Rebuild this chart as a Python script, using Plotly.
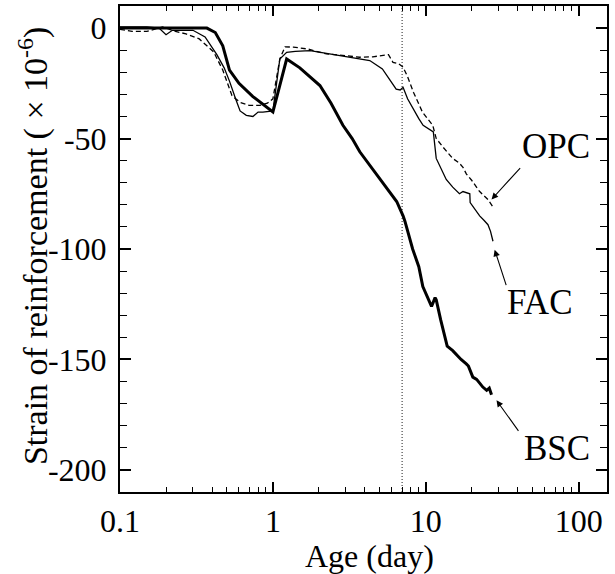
import plotly.graph_objects as go
import math

# ---- data ----
bsc_age = [0.1, 0.15, 0.2, 0.3, 0.37, 0.42, 0.47, 0.52, 0.6, 0.74, 0.87, 1.0, 1.23, 1.5, 2.03, 2.4,
           2.87, 3.3, 3.7, 4.4, 5.2, 5.8, 6.45, 7.1, 7.3, 8.2, 9.0, 9.56, 10.9, 11.5, 11.7, 12.5,
           13.8, 15.0, 15.9, 17.0, 18.4, 19.0, 20.3, 21.5, 23.6, 25.0, 26.0, 26.9]
bsc_strain = [0, 0, 0, 0, 0, -2, -8, -19, -25, -31, -35, -38, -14, -18, -26, -34,
              -44, -50, -56, -63, -70, -74, -78.5, -85, -87.4, -100, -108, -117, -126, -122, -123, -132,
              -144, -146, -148, -150, -152, -153, -158, -159, -162.5, -164, -163, -166]

fac_age = [0.1, 0.15, 0.18, 0.2, 0.22, 0.3, 0.36, 0.43, 0.48, 0.52, 0.57, 0.61, 0.67, 0.74, 0.8,
           0.86, 1.0, 1.11, 1.23, 1.4, 1.75, 2.3, 2.87, 3.5, 4.3, 5.2, 5.8, 6.4, 6.8, 7.1, 7.6,
           8.3, 9.0, 9.6, 11.1, 11.2, 11.7, 12.5, 13.6, 15.0, 16.6, 17.5, 19.4, 19.5, 21.0, 22.5,
           24.0, 25.5, 26.5, 27.5]
fac_strain = [0.5, 0.5, 0, -3, -1, -1, -4, -12, -18, -24, -32, -37.5, -39.5, -40, -38,
              -38, -37.5, -14, -11, -10.5, -10.2, -11.5, -12.5, -13.5, -14.7, -18.5, -23, -27.6, -28, -26.8, -32,
              -37, -41, -44, -47, -47, -59, -63, -68.5, -72, -75, -74, -75, -79, -82, -85,
              -87, -89, -92, -96.5]

opc_age = [0.1, 0.12, 0.15, 0.19, 0.23, 0.27, 0.33, 0.41, 0.47, 0.54, 0.61, 0.7, 0.82, 0.92, 1.0,
           1.11, 1.2, 1.36, 1.7, 2.24, 3.0, 3.7, 4.5, 5.3, 5.7, 6.1, 6.6, 7.1, 7.6, 8.3, 9.5, 11.1,
           11.7, 13.0, 15.0, 16.5, 17.5, 18.4, 20.0, 22.5, 24.0, 25.5, 27.5]
opc_strain = [-0.6, -1.5, -1.5, 0.5, -1.5, -2.6, -4.9, -10.8, -19, -30.6, -33.6, -35, -35, -34, -32,
              -14, -8.5, -8.6, -9.5, -11.7, -12.5, -13.2, -13, -12.4, -12, -15.5, -16, -17.7, -22, -29, -38, -44,
              -50, -54, -59, -61, -63, -66, -69, -74, -76, -77.6, -81]

ref_age = 7          # vertical dotted reference line (7 days)
x_ticks = [0.1, 1, 10, 100]
x_ticktext = ["0.1", "1", "10", "100"]
y_ticks = [0, -50, -100, -150, -200]
y_ticktext = ["0", "-50", "-100", "-150", "-200"]
x_title = "Age (day)"
y_title = "Strain of reinforcement ( \u00d7 10<sup>-6</sup>)"

FONT = "Liberation Serif"

fig = go.Figure()
fig.add_trace(go.Scatter(x=[ref_age, ref_age], y=[-210, 10], mode="lines",
                         line=dict(color="#444", width=1.2, dash="1px,2px"), showlegend=False))
fig.add_trace(go.Scatter(x=opc_age, y=opc_strain, mode="lines", name="OPC",
                         line=dict(color="black", width=1.3, dash="5px,3px")))
fig.add_trace(go.Scatter(x=fac_age, y=fac_strain, mode="lines", name="FAC",
                         line=dict(color="black", width=1.3)))
fig.add_trace(go.Scatter(x=bsc_age, y=bsc_strain, mode="lines", name="BSC",
                         line=dict(color="black", width=3)))

# labels with arrows (annotation x on log axes is given in log10 units)
labels = [
    ("OPC", 70.8, -53.5, 26.9, -77.6, 30, -33),
    ("FAC", 55.6, -124.4, 28.2, -100.3, 12, 37),
    ("BSC", 71.8, -190.3, 29.0, -168.5, 23, 32),
]
for txt, lx, ly, hx, hy, ax, ay in labels:
    fig.add_annotation(x=math.log10(lx), y=ly, text=txt, showarrow=False,
                       xanchor="center", yanchor="middle",
                       font=dict(family=FONT, size=35, color="black"))
    fig.add_annotation(x=math.log10(hx), y=hy, text="", showarrow=True, ax=ax, ay=ay,
                       arrowhead=2, arrowsize=1.2, arrowwidth=1.1, arrowcolor="black")

# axis titles
fig.add_annotation(xref="paper", yref="paper", x=0.513, y=-0.132, text=x_title,
                   xanchor="center", yanchor="middle",
                   showarrow=False, font=dict(family=FONT, size=32, color="black"))
fig.add_annotation(xref="paper", yref="paper", x=-0.1786, y=0.506, text=y_title, textangle=-90,
                   xanchor="center", yanchor="middle",
                   showarrow=False, font=dict(family=FONT, size=34, color="black"))

fig.update_layout(
    width=615, height=574,
    margin=dict(l=120, r=8, t=6, b=82, autoexpand=False),
    paper_bgcolor="white", plot_bgcolor="white",
    showlegend=False,
    font=dict(family=FONT, size=32, color="black"),
)
fig.update_xaxes(
    type="log", range=[-1, 2.185], automargin=False,
    tickmode="array", tickvals=x_ticks, ticktext=x_ticktext,
    ticks="inside", ticklen=10, tickwidth=1.5, tickcolor="black",
    minor=dict(tickvals=[m * d for d in [0.1, 1, 10] for m in range(2, 10)],
               ticks="inside", ticklen=5, tickwidth=1.3, tickcolor="black"),
    showline=True, linecolor="black", linewidth=2, mirror="ticks",
    showgrid=False, zeroline=False,
)
fig.update_yaxes(
    range=[-210, 10], automargin=False,
    tickmode="array", tickvals=y_ticks, ticktext=y_ticktext,
    ticks="inside", ticklen=11, tickwidth=1.5, tickcolor="black", ticklabelstandoff=5,
    minor=dict(dtick=10, ticks="inside", ticklen=7, tickwidth=1.3, tickcolor="black"),
    showline=True, linecolor="black", linewidth=2, mirror="ticks",
    showgrid=False, zeroline=False,
)

fig.write_html("out.html", config={"displayModeBar": False},
               post_script="document.body.style.margin='0px';")
